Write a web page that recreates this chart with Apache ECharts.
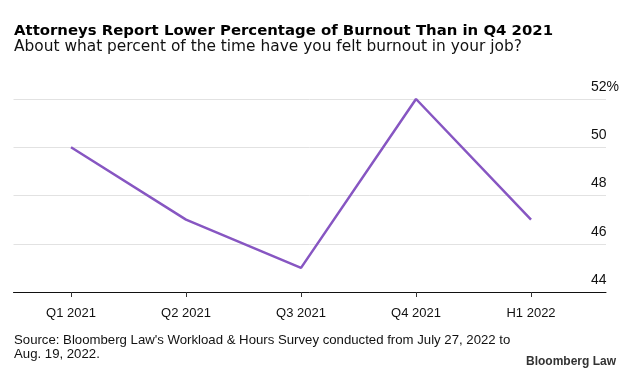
<!DOCTYPE html>
<html>
<head>
<meta charset="utf-8">
<script src="https://cdn.jsdelivr.net/npm/echarts@6/dist/echarts.min.js"></script>
<style>
html,body{margin:0;padding:0;background:#fff;}
#chart{width:633px;height:374px;}
</style>
</head>
<body>
<div id="chart"></div>
<script>
const categories = ['Q1 2021', 'Q2 2021', 'Q3 2021', 'Q4 2021', 'H1 2022'];
const burnout = [50, 47, 45, 52, 47];
const yTicks = [44, 46, 48, 50, 52];

const FONT = '"Liberation Sans", Arial, sans-serif';
const HEAD = '"DejaVu Sans", sans-serif';
const chart = echarts.init(document.getElementById('chart'), null, {renderer: 'canvas'});
const idx = categories.map((c, i) => i);

chart.setOption({
  animation: false,
  textStyle: {fontFamily: FONT},
  title: [
    {text: 'Attorneys Report Lower Percentage of Burnout Than in Q4 2021', left: 14, top: 23, padding: 0,
     textStyle: {fontFamily: HEAD, fontWeight: 'bold', fontSize: 14.9, lineHeight: 17, color: '#000'}},
    {text: 'About what percent of the time have you felt burnout in your job?', left: 14, top: 37.5, padding: 0,
     textStyle: {fontFamily: HEAD, fontWeight: 'normal', fontSize: 15.4, lineHeight: 18, color: '#111'}},
    {text: "Source: Bloomberg Law's Workload & Hours Survey conducted from July 27, 2022 to\nAug. 19, 2022.", left: 14, top: 333, padding: 0,
     textStyle: {fontFamily: FONT, fontWeight: 'normal', fontSize: 13.2, lineHeight: 14.5, color: '#111'}},
    {text: 'Bloomberg Law', right: 17, top: 355.5, padding: 0,
     textStyle: {fontFamily: FONT, fontWeight: 'bold', fontSize: 12, color: '#333'}}
  ],
  grid: {left: 13.5, right: 27, top: 99, bottom: 82, containLabel: false},
  xAxis: {
    type: 'value', min: -0.5, max: 4.652,
    axisLine: {show: true, lineStyle: {color: '#111', width: 1}},
    axisTick: {show: true, length: 5, lineStyle: {color: '#333'}, customValues: idx},
    axisLabel: {customValues: idx, formatter: v => categories[Math.round(v)] || '', fontSize: 13, color: '#111', margin: 15, fontFamily: FONT},
    splitLine: {show: false}
  },
  yAxis: {
    type: 'value', position: 'right', min: 44, max: 52, interval: 2,
    axisLine: {show: false}, axisTick: {show: false},
    axisLabel: {
      margin: -15, align: 'left', verticalAlign: 'bottom', padding: [0, 0, 5, 0],
      fontSize: 14, color: '#111', fontFamily: FONT,
      formatter: v => v === yTicks[yTicks.length - 1] ? v + '%' : String(v)
    },
    splitLine: {show: true, lineStyle: {color: '#e2e2e2', width: 1}}
  },
  series: [{
    type: 'line',
    data: burnout.map((v, i) => [idx[i], v]),
    symbol: 'none',
    lineStyle: {color: '#8756c2', width: 2.5},
    z: 5
  }]
});
</script>
</body>
</html>
